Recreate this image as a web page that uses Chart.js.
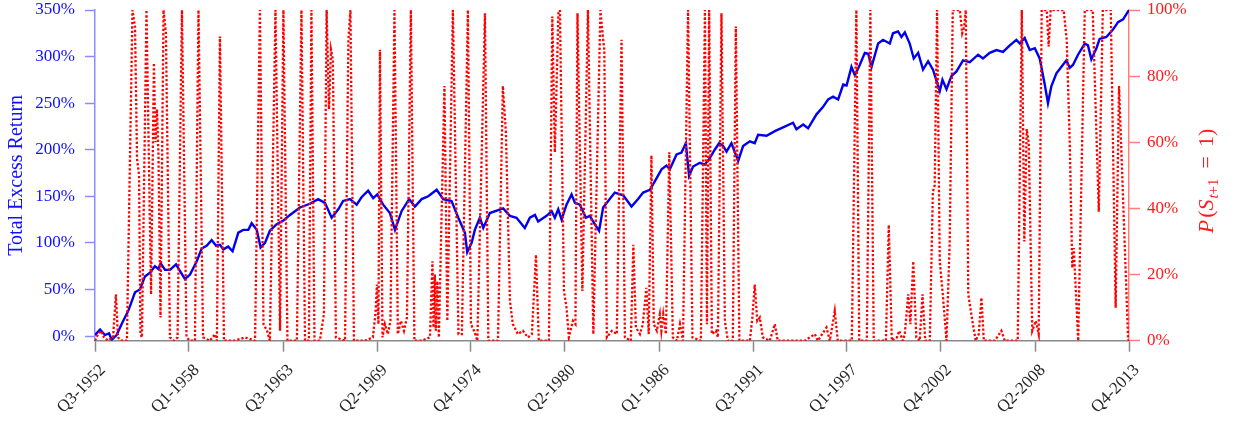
<!DOCTYPE html>
<html>
<head>
<meta charset="utf-8">
<title>Total Excess Return and regime probability</title>
<script src="https://cdn.jsdelivr.net/npm/chart.js@4.4.1/dist/chart.umd.min.js"></script>
<style>
    body { margin: 0; background: #fff; }
    #wrap { width: 1236px; height: 424px; position: relative; }
</style>
</head>
<body>
<div id="wrap"><canvas id="regimeChart"></canvas></div>
<script>
// --- Data ---
const tickLabels = ['Q3-1952', 'Q1-1958', 'Q3-1963', 'Q2-1969', 'Q4-1974', 'Q2-1980',
    'Q1-1986', 'Q3-1991', 'Q1-1997', 'Q4-2002', 'Q2-2008', 'Q4-2013'];

// cumulative excess return, % (left axis)
const returnYears = [
    1952.50, 1952.80, 1953.09, 1953.33, 1953.49, 1953.78, 1954.08, 1954.47, 1954.87, 1955.16,
    1955.46, 1955.76, 1956.05, 1956.25, 1956.39, 1956.65, 1956.94, 1957.30, 1957.53, 1957.83,
    1958.13, 1958.52, 1958.82, 1959.11, 1959.41, 1959.67, 1959.90, 1960.10, 1960.39, 1960.65,
    1960.99, 1961.28, 1961.58, 1961.78, 1962.08, 1962.31, 1962.57, 1962.86, 1963.26, 1963.66,
    1964.05, 1964.64, 1965.23, 1965.72, 1966.12, 1966.52, 1966.91, 1967.20, 1967.60, 1968.00,
    1968.29, 1968.68, 1968.98, 1969.22, 1969.57, 1969.97, 1970.27, 1970.66, 1971.11, 1971.45,
    1971.85, 1972.24, 1972.74, 1973.13, 1973.62, 1974.02, 1974.41, 1974.55, 1974.81, 1975.00,
    1975.30, 1975.50, 1975.89, 1976.68, 1977.08, 1977.47, 1977.96, 1978.26, 1978.56, 1978.75,
    1979.25, 1979.55, 1979.74, 1979.94, 1980.14, 1980.43, 1980.73, 1980.93, 1981.22, 1981.58,
    1981.81, 1982.11, 1982.36, 1982.60, 1982.99, 1983.29, 1983.79, 1984.28, 1984.67, 1984.97,
    1985.37, 1985.66, 1986.06, 1986.35, 1986.55, 1986.95, 1987.24, 1987.50, 1987.69, 1987.93,
    1988.33, 1988.62, 1988.92, 1989.21, 1989.47, 1989.71, 1989.91, 1990.20, 1990.60, 1990.89,
    1991.29, 1991.58, 1991.78, 1992.28, 1992.77, 1993.26, 1993.85, 1994.05, 1994.45, 1994.74,
    1995.24, 1995.63, 1995.93, 1996.22, 1996.52, 1996.82, 1997.02, 1997.31, 1997.51, 1997.80,
    1998.10, 1998.30, 1998.50, 1998.89, 1999.18, 1999.58, 1999.77, 2000.07, 2000.27, 2000.47,
    2000.76, 2001.00, 2001.26, 2001.55, 2001.85, 2002.14, 2002.38, 2002.54, 2002.70, 2002.94,
    2003.23, 2003.53, 2003.92, 2004.32, 2004.81, 2005.10, 2005.50, 2005.90, 2006.29, 2006.69,
    2007.08, 2007.28, 2007.57, 2007.87, 2008.17, 2008.46, 2008.76, 2008.95, 2009.15, 2009.45,
    2009.75, 2010.04, 2010.24, 2010.43, 2010.73, 2011.13, 2011.32, 2011.52, 2011.82, 2012.01,
    2012.41, 2012.80, 2013.10, 2013.40, 2013.75
];
const excessReturn = [
    1, 7, 1, 3, -4, 1, 13, 27, 47, 50,
    64, 68, 75, 72, 78, 71, 71, 77, 70, 61,
    66, 80, 94, 97, 103, 97, 98, 93, 96, 91,
    111, 114, 114, 121, 114, 95, 100, 113, 120, 124,
    130, 138, 142, 147, 143, 127, 136, 145, 147, 141,
    149, 156, 148, 152, 141, 132, 114, 134, 147, 139,
    147, 150, 157, 147, 145, 127, 111, 90, 100, 114,
    127, 116, 132, 137, 129, 127, 116, 127, 130, 123,
    129, 134, 127, 136, 125, 141, 152, 143, 141, 127,
    129, 120, 113, 138, 147, 154, 151, 139, 147, 154,
    157, 166, 179, 183, 179, 195, 197, 207, 172, 182,
    186, 184, 191, 200, 207, 204, 198, 207, 188, 204,
    209, 207, 216, 215, 220, 224, 229, 222, 227, 223,
    238, 246, 254, 257, 254, 270, 269, 289, 280, 291,
    304, 303, 289, 314, 318, 314, 325, 327, 321, 326,
    314, 298, 304, 286, 295, 286, 272, 263, 275, 265,
    279, 284, 296, 294, 302, 298, 304, 307, 305, 312,
    318, 314, 320, 307, 309, 298, 270, 250, 268, 282,
    289, 296, 288, 291, 302, 314, 312, 297, 309, 319,
    321, 329, 337, 340, 350
];

// probability of the next-period regime, % (right axis)
const probYears = [
    1952.50, 1952.68, 1952.86, 1953.03, 1953.27, 1953.57, 1953.74, 1953.86, 1954.10, 1954.39,
    1954.72, 1954.87, 1954.99, 1955.11, 1955.19, 1955.28, 1955.55, 1955.82, 1955.99, 1956.08,
    1956.17, 1956.26, 1956.38, 1956.56, 1956.70, 1956.94, 1957.18, 1957.39, 1957.65, 1957.92,
    1958.13, 1958.42, 1958.63, 1958.90, 1959.31, 1959.61, 1959.72, 1959.90, 1960.14, 1960.79,
    1961.38, 1961.98, 1962.27, 1962.48, 1962.69, 1962.86, 1963.19, 1963.46, 1963.66, 1963.90,
    1964.46, 1964.73, 1964.94, 1965.17, 1965.32, 1965.50, 1965.82, 1966.06, 1966.22, 1966.36,
    1966.48, 1966.59, 1966.77, 1967.31, 1967.51, 1967.63, 1967.84, 1968.49, 1968.96, 1969.11,
    1969.20, 1969.29, 1969.38, 1969.53, 1969.67, 1969.85, 1970.00, 1970.24, 1970.44, 1970.62,
    1970.80, 1970.98, 1971.21, 1971.42, 1971.86, 1972.34, 1972.49, 1972.55, 1972.63, 1972.69,
    1972.78, 1972.87, 1973.20, 1973.37, 1973.70, 1974.03, 1974.23, 1974.59, 1974.77, 1974.95,
    1975.15, 1975.60, 1975.80, 1976.37, 1976.66, 1976.84, 1977.08, 1977.25, 1977.55, 1977.85,
    1978.14, 1978.38, 1978.62, 1978.79, 1979.39, 1979.59, 1979.74, 1979.95, 1980.04, 1980.28,
    1980.43, 1980.57, 1980.81, 1980.96, 1981.08, 1981.37, 1981.70, 1982.02, 1982.44, 1982.58,
    1982.67, 1982.82, 1983.12, 1983.41, 1983.69, 1983.89, 1984.24, 1984.39, 1984.54, 1984.78,
    1984.95, 1985.16, 1985.30, 1985.46, 1985.60, 1985.78, 1985.96, 1986.05, 1986.16, 1986.32,
    1986.52, 1986.73, 1986.97, 1987.15, 1987.33, 1987.63, 1987.89, 1988.39, 1988.63, 1988.75,
    1988.88, 1989.04, 1989.28, 1989.40, 1989.61, 1989.81, 1989.99, 1990.28, 1990.46, 1990.67,
    1991.29, 1991.44, 1991.58, 1991.73, 1991.88, 1992.06, 1992.47, 1992.77, 1992.94, 1993.65,
    1994.55, 1995.14, 1995.32, 1995.83, 1996.03, 1996.32, 1996.50, 1997.33, 1997.60, 1997.77,
    1998.22, 1998.43, 1998.63, 1999.35, 1999.52, 1999.70, 2000.00, 2000.14, 2000.35, 2000.47,
    2000.67, 2000.80, 2000.97, 2001.15, 2001.35, 2001.52, 2001.68, 2001.95, 2002.13, 2002.24,
    2002.38, 2002.54, 2002.72, 2002.94, 2003.13, 2003.31, 2003.73, 2003.87, 2003.99, 2004.08,
    2004.23, 2004.47, 2004.67, 2004.85, 2005.01, 2005.15, 2005.80, 2006.19, 2006.39, 2007.16,
    2007.40, 2007.55, 2007.69, 2007.81, 2008.02, 2008.23, 2008.40, 2008.58, 2008.88, 2008.99,
    2009.11, 2009.88, 2010.06, 2010.24, 2010.39, 2010.48, 2010.74, 2011.13, 2011.60, 2011.96,
    2012.20, 2012.67, 2012.96, 2013.16, 2013.70
];
const probRegime = [
    0, 2, 3, 1, 0, 1, 14, 1, 0, 0,
    100, 95, 55, 50, 2, 1, 100, 14, 84, 60,
    70, 56, 7, 100, 93, 1, 0, 1, 100, 1,
    0, 0, 100, 1, 0, 2, 0, 92, 0, 0,
    1, 0, 100, 5, 3, 0, 100, 3, 100, 0,
    0, 100, 0, 0, 100, 0, 0, 8, 100, 70,
    88, 85, 1, 0, 91, 100, 0, 0, 1, 8,
    17, 5, 88, 1, 5, 2, 6, 100, 2, 6,
    3, 7, 100, 0, 0, 1, 24, 4, 20, 3,
    18, 1, 77, 6, 100, 2, 2, 100, 5, 3,
    0, 99, 0, 0, 77, 63, 12, 5, 2, 3,
    1, 2, 26, 0, 0, 98, 57, 99, 100, 15,
    10, 1, 6, 5, 99, 15, 100, 2, 100, 92,
    88, 1, 3, 2, 91, 1, 0, 29, 4, 2,
    5, 16, 2, 56, 5, 3, 8, 3, 8, 2,
    57, 1, 0, 5, 0, 100, 1, 0, 100, 5,
    100, 2, 3, 1, 99, 6, 0, 0, 95, 0,
    0, 7, 17, 6, 7, 1, 0, 5, 0, 0,
    0, 2, 0, 4, 0, 9, 0, 0, 100, 0,
    0, 100, 0, 0, 35, 0, 1, 3, 0, 2,
    14, 5, 24, 1, 0, 14, 0, 0, 45, 47,
    100, 24, 14, 0, 30, 100, 100, 93, 95, 100,
    14, 6, 0, 2, 13, 0, 0, 3, 0, 0,
    100, 30, 64, 60, 3, 6, 2, 100, 100, 89,
    100, 100, 91, 60, 22, 28, 0, 100, 100, 39,
    100, 100, 10, 77, 0
];

const returnTicks = [0, 50, 100, 150, 200, 250, 300, 350];

const SERIF = '"Liberation Serif", "Times New Roman", serif';
const X_MIN = 1952.5;
const X_MAX = 2013.75;
// date labels sit at evenly spaced positions along the axis
const dateTicks = tickLabels.map((_, i) => X_MIN + i * (X_MAX - X_MIN) / (tickLabels.length - 1));

// keep the plot box where the reference has it
function fixSide(width) {
    return scale => {
        scale.width = width;
        scale.paddingTop = 10;
        scale.paddingBottom = 0;
    };
}

// --- Rotated date labels under the x axis ---
const dateLabels = {
    id: 'dateLabels',
    afterDraw(chart) {
        const ctx = chart.ctx;
        const xScale = chart.scales.x;
        ctx.save();
        ctx.font = '17px ' + SERIF;
        ctx.fillStyle = '#262626';
        ctx.textAlign = 'right';
        ctx.textBaseline = 'alphabetic';
        dateTicks.forEach((v, i) => {
            ctx.save();
            ctx.translate(xScale.getPixelForValue(v) + 11, xScale.top + 30);
            ctx.rotate(-Math.PI / 4);
            ctx.fillText(tickLabels[i], 0, 0);
            ctx.restore();
        });
        ctx.restore();
    }
};

// --- Right axis title P(S_{t+1} = 1), drawn piece by piece for the subscript ---
const probTitle = {
    id: 'probTitle',
    afterDraw(chart) {
        const ctx = chart.ctx;
        const parts = [
            { text: 'P', font: 'italic 22px ', dy: 0, gap: 0 },
            { text: '(', font: '22px ', dy: 0, gap: 2 },
            { text: 'S', font: 'italic 22px ', dy: 0, gap: 0 },
            { text: 't', font: 'italic 15px ', dy: 5, gap: 1 },
            { text: '+1', font: '15px ', dy: 5, gap: 0 },
            { text: '=', font: '22px ', dy: 0, gap: 10 },
            { text: '1)', font: '22px ', dy: 0, gap: 9 }
        ];
        ctx.save();
        let total = 0;
        parts.forEach(p => {
            ctx.font = p.font + SERIF;
            p.w = ctx.measureText(p.text).width;
            total += p.gap + p.w;
        });
        ctx.translate(1213, 181);
        ctx.rotate(-Math.PI / 2);
        ctx.fillStyle = '#ff1a1a';
        ctx.textAlign = 'left';
        ctx.textBaseline = 'alphabetic';
        let pos = -total / 2;
        parts.forEach(p => {
            pos += p.gap;
            ctx.font = p.font + SERIF;
            ctx.fillText(p.text, pos, p.dy);
            pos += p.w;
        });
        ctx.restore();
    }
};

new Chart(document.getElementById('regimeChart'), {
    type: 'line',
    data: {
        datasets: [{
            label: 'P(S_{t+1} = 1)',
            data: probYears.map((x, i) => ({ x: x, y: probRegime[i] })),
            yAxisID: 'y1',
            borderColor: '#ff0000',
            borderWidth: 2.3,
            borderDash: [2.3, 2],
            pointRadius: 0,
            tension: 0,
            order: 0
        }, {
            label: 'Total Excess Return',
            data: returnYears.map((x, i) => ({ x: x, y: excessReturn[i] })),
            yAxisID: 'y',
            borderColor: '#0000ee',
            borderWidth: 2.4,
            pointRadius: 0,
            tension: 0,
            order: 1
        }]
    },
    options: {
        responsive: true,
        maintainAspectRatio: false,
        animation: false,
        layout: { padding: 0 },
        plugins: {
            legend: { display: false },
            tooltip: { enabled: false }
        },
        scales: {
            x: {
                type: 'linear',
                min: X_MIN,
                max: X_MAX,
                afterBuildTicks: scale => { scale.ticks = dateTicks.map(v => ({ value: v })); },
                afterFit: scale => {
                    scale.height = 83.3;
                    scale.paddingLeft = 0;
                    scale.paddingRight = 0;
                },
                ticks: { display: false },
                grid: { drawOnChartArea: false, tickLength: 11, tickColor: '#8a8a8a', tickWidth: 1.5 },
                border: { color: '#8a8a8a', width: 1.5 }
            },
            y: {
                position: 'left',
                min: -5,
                max: 350,
                afterBuildTicks: scale => { scale.ticks = returnTicks.map(v => ({ value: v })); },
                afterFit: fixSide(95),
                ticks: {
                    color: '#1010ff',
                    padding: 10,
                    font: { family: SERIF, size: 17 },
                    callback: value => value + '%'
                },
                grid: { drawOnChartArea: false, tickLength: 10, tickColor: 'rgba(0,0,255,0.45)', tickWidth: 1.5 },
                border: { color: 'rgba(0,0,255,0.45)', width: 1.5 },
                title: {
                    display: true,
                    text: 'Total Excess Return',
                    color: '#1010ff',
                    font: { family: SERIF, size: 20 },
                    padding: { top: 5, bottom: 0 }
                }
            },
            y1: {
                position: 'right',
                min: 0,
                max: 100,
                afterFit: fixSide(107),
                ticks: {
                    stepSize: 20,
                    color: '#ff1a1a',
                    padding: 7,
                    font: { family: SERIF, size: 17 },
                    callback: value => value + '%'
                },
                grid: { drawOnChartArea: false, tickLength: 11, tickColor: 'rgba(255,0,0,0.5)', tickWidth: 1.5 },
                border: { color: 'rgba(255,0,0,0.5)', width: 1.5 }
            }
        }
    },
    plugins: [dateLabels, probTitle]
});
</script>
</body>
</html>
